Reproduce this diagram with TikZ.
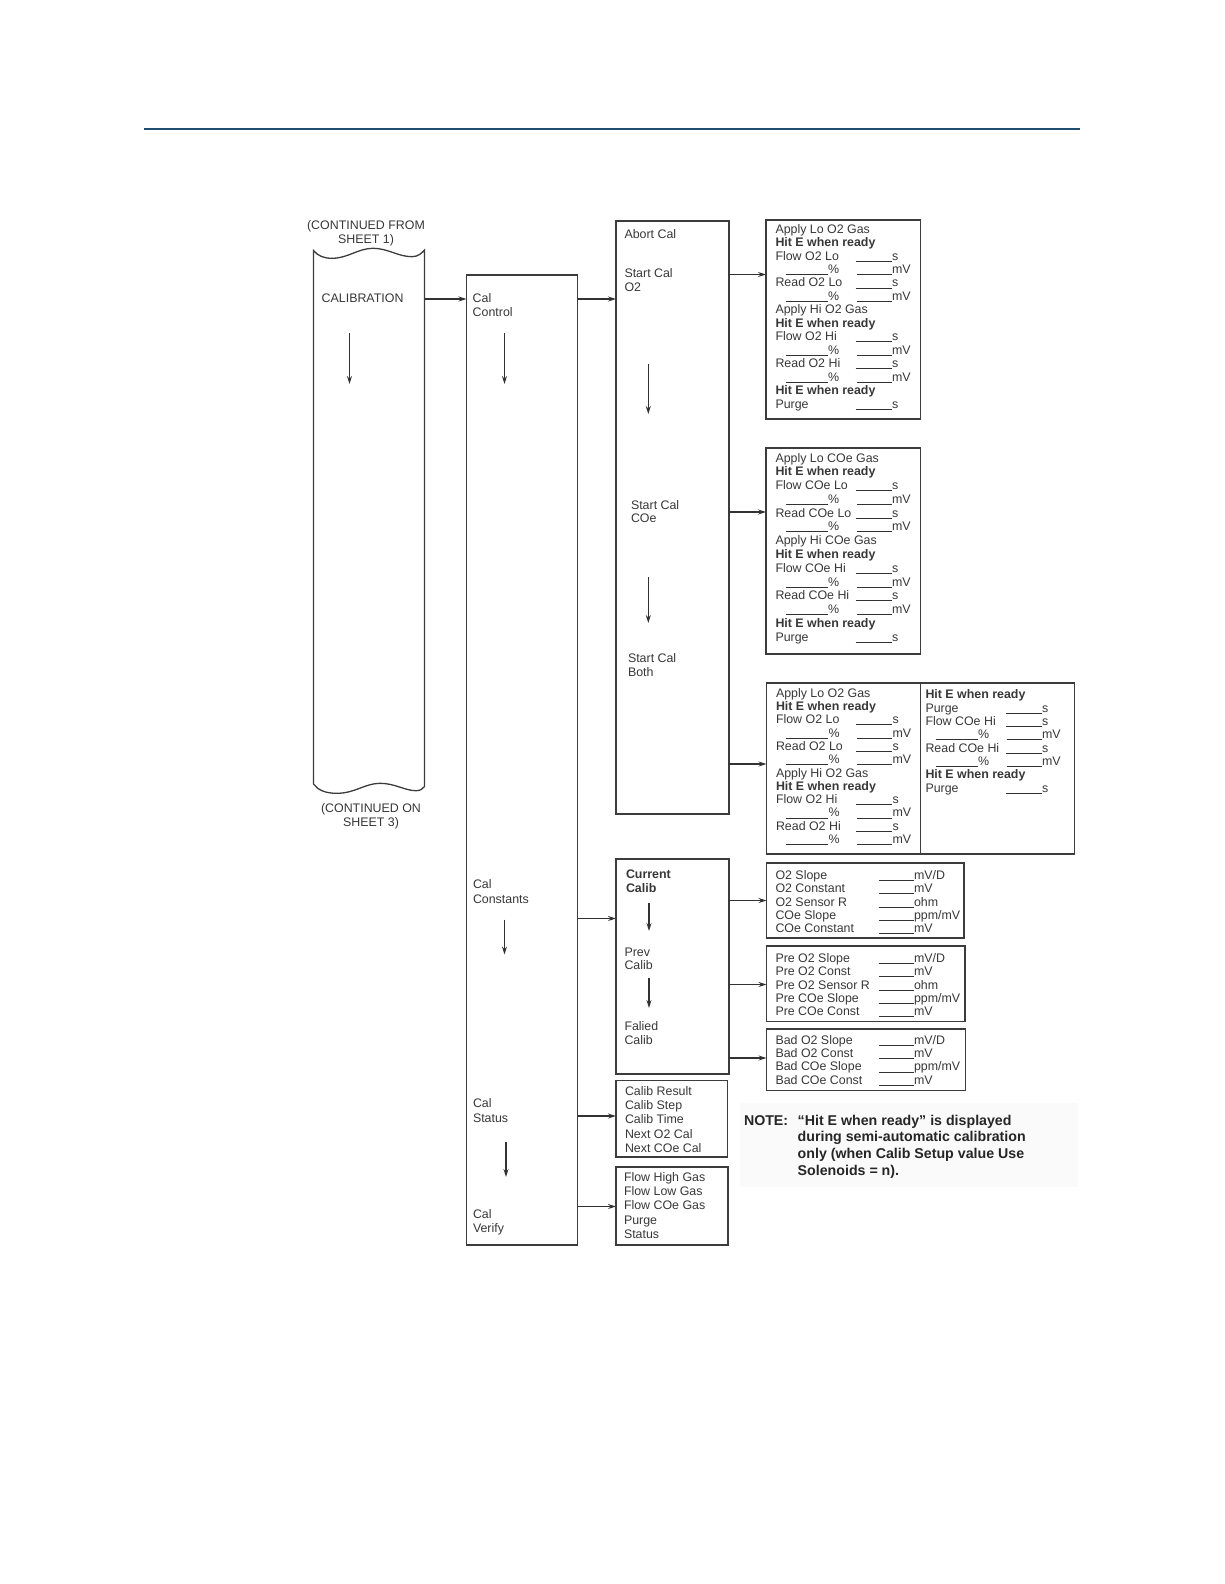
\documentclass[tikz,border=0pt]{standalone}
\usepackage{fontspec}
\setmainfont{Liberation Sans}
\usetikzlibrary{arrows.meta,calc}
\definecolor{txtc}{RGB}{55,55,55}
\definecolor{boxc}{RGB}{60,60,60}
\definecolor{linec}{RGB}{50,50,50}
\definecolor{rulec}{RGB}{32,76,112}
\tikzset{
  txt/.style={anchor=base west, inner sep=0pt, outer sep=0pt, text=txtc, font=\fontsize{12.4}{14}\selectfont},
  bld/.style={txt, font=\fontsize{12.4}{14}\selectfont\bfseries},
  ctr/.style={txt, anchor=base},
  notet/.style={anchor=base west, inner sep=0pt, outer sep=0pt, text=black!85, font=\fontsize{14.2}{17}\selectfont\bfseries},
  box/.style={draw=boxc, line width=1.3pt, anchor=north west, inner sep=0pt, outer sep=0pt},
  arr/.style={draw=linec, line width=1.1pt, -{Stealth[length=8pt,width=5pt]}},
  blank/.style={draw=linec, line width=0.8pt},
}
% rows: name, left x, baseline y, label
\newcommand\mkT[4]{\node[txt] (#1) at (#2,#3) {#4};}
\newcommand\mkB[4]{\node[bld] (#1) at (#2,#3) {#4};}
\newcommand\mkS[4]{\node[txt] (#1) at (#2,#3) {#4};
  \draw[blank] (#2+80,#3+1) -- (#2+116,#3+1);
  \node[txt] (#1u) at (#2+116.5,#3) {s};}
\newcommand\mkP[3]{\draw[blank] (#2+10,#3+1) -- (#2+52,#3+1);
  \node[txt] (#1) at (#2+52.5,#3) {\%};
  \draw[blank] (#2+81,#3+1) -- (#2+116,#3+1);
  \node[txt] (#1u) at (#2+116.5,#3) {mV};}
\newcommand\mkC[5]{\node[txt] (#1) at (#2,#3) {#4};
  \draw[blank] (#2+103,#3+1) -- (#2+138,#3+1);
  \node[txt] (#1u) at (#2+138.5,#3) {#5};}
\begin{document}
\begin{tikzpicture}[x=1pt,y=-1pt]
\useasboundingbox (0,0) rectangle (1224,1584);
% page rule
\draw[rulec, line width=1.5pt] (144,129) -- (1080,129);

% ---------- left scroll ----------
\node[ctr] (cf1) at (366,229.3) {(CONTINUED FROM};
\node[ctr] (cf2) at (366,243.3) {SHEET 1)};
\draw[boxc, line width=1.3pt]
  (313.5,250.5) .. controls (318,256) and (324,258.3) .. (332,258.3)
  .. controls (348,258.3) and (358,248.3) .. (373,248.3)
  .. controls (388,248.3) and (398,256.7) .. (412,256.7)
  .. controls (418,256.7) and (422,253) .. (424.5,250)
  -- (424.5,786.5)
  .. controls (423,789) and (420,790.7) .. (416,790.7)
  .. controls (405,790.7) and (395,783.3) .. (380,783.3)
  .. controls (365,783.3) and (355,793.3) .. (337,793.3)
  .. controls (325,793.3) and (318,790) .. (313.5,784)
  -- cycle;
\node[txt] (calib) at (321.7,302) {CALIBRATION};
\coordinate (calibA) at (349.5,333);
\coordinate (calibB) at (349.5,384);
\draw[arr] (calibA) -- (calibB);
\node[ctr] (co1) at (371,812.7) {(CONTINUED ON};
\node[ctr] (co2) at (371,826.5) {SHEET 3)};
\coordinate (calibE) at (424.5,299);

% ---------- Cal column ----------
\node[box, minimum width=111pt, minimum height=970pt] (calctl) at (466.5,275) {};
\mkT{cc1}{472.7}{302.5}{Cal}
\mkT{cc2}{472.7}{316.3}{Control}
\mkT{ck1}{473}{888.5}{Cal}
\mkT{ck2}{473}{903}{Constants}
\mkT{cs1}{473}{1107.5}{Cal}
\mkT{cs2}{473}{1122}{Status}
\mkT{cv1}{473}{1218.5}{Cal}
\mkT{cv2}{473}{1232.5}{Verify}
\coordinate (d1a) at (504.5,333);   \coordinate (d1b) at (504.5,384);
\coordinate (d2a) at (504.5,919.5); \coordinate (d2b) at (504.5,954.5);
\coordinate (d3a) at (506,1141.5);  \coordinate (d3b) at (506,1177);
\draw[arr] (d1a) -- (d1b);
\draw[arr] (d2a) -- (d2b);
\draw[arr] (d3a) -- (d3b);
\draw[arr] (calibE) -- (calctl.west |- calibE);

% ---------- Cal Control menu ----------
\node[box, minimum width=113pt, minimum height=593pt] (ctlmenu) at (616,221) {};
\mkT{m1}{624.5}{238}{Abort Cal}
\mkT{m2}{624.5}{277.5}{Start Cal}
\mkT{m3}{624.5}{291.5}{O2}
\mkT{m4}{631}{509}{Start Cal}
\mkT{m5}{631}{522.5}{COe}
\mkT{m6}{628}{662.5}{Start Cal}
\mkT{m7}{628}{676.5}{Both}
\coordinate (e1a) at (648.3,364); \coordinate (e1b) at (648.3,414);
\coordinate (e2a) at (648.3,577); \coordinate (e2b) at (648.3,623);
\draw[arr] (e1a) -- (e1b);
\draw[arr] (e2a) -- (e2b);
\coordinate (y299) at (0,299);
\draw[arr] (calctl.east |- y299) -- (ctlmenu.west |- y299);

% ---------- O2 box ----------
\node[box, minimum width=154.5pt, minimum height=199pt] (o2box) at (766,220) {};
\mkT{oa}{775.5}{233}{Apply Lo O2 Gas}
\mkB{ob}{775.5}{246.5}{Hit E when ready}
\mkS{oc}{775.5}{260}{Flow O2 Lo}
\mkP{od}{775.5}{273.4}
\mkS{oe}{775.5}{286.9}{Read O2 Lo}
\mkP{of}{775.5}{300.4}
\mkT{og}{775.5}{313.9}{Apply Hi O2 Gas}
\mkB{oh}{775.5}{327.4}{Hit E when ready}
\mkS{oi}{775.5}{340.8}{Flow O2 Hi}
\mkP{oj}{775.5}{354.3}
\mkS{ok}{775.5}{367.8}{Read O2 Hi}
\mkP{ol}{775.5}{381.3}
\mkB{om}{775.5}{394.8}{Hit E when ready}
\mkS{on}{775.5}{408.3}{Purge}
\coordinate (y274) at (0,274.5);
\draw[arr] (ctlmenu.east |- y274) -- (o2box.west |- y274);

% ---------- COe box ----------
\node[box, minimum width=154.5pt, minimum height=206pt] (coebox) at (766,448) {};
\mkT{ca}{775.5}{462}{Apply Lo COe Gas}
\mkB{cb}{775.5}{475.8}{Hit E when ready}
\mkS{cc}{775.5}{489.5}{Flow COe Lo}
\mkP{cd}{775.5}{503.3}
\mkS{ce}{775.5}{517}{Read COe Lo}
\mkP{cf}{775.5}{530.8}
\mkT{cg}{775.5}{544.6}{Apply Hi COe Gas}
\mkB{ch}{775.5}{558.4}{Hit E when ready}
\mkS{ci}{775.5}{572.2}{Flow COe Hi}
\mkP{cj}{775.5}{586}
\mkS{ck}{775.5}{599.7}{Read COe Hi}
\mkP{cl}{775.5}{613.5}
\mkB{cm}{775.5}{627.2}{Hit E when ready}
\mkS{cn}{775.5}{641}{Purge}
\coordinate (y512) at (0,512);
\draw[arr] (ctlmenu.east |- y512) -- (coebox.west |- y512);

% ---------- Both box ----------
\node[box, minimum width=154pt, minimum height=171pt] (bothL) at (766.5,683) {};
\node[box, minimum width=154pt, minimum height=171pt] (bothR) at (920.5,683) {};
\mkT{ba}{776}{697.2}{Apply Lo O2 Gas}
\mkB{bb}{776}{710.5}{Hit E when ready}
\mkS{bc}{776}{723.8}{Flow O2 Lo}
\mkP{bd}{776}{737.1}
\mkS{be}{776}{750.4}{Read O2 Lo}
\mkP{bf}{776}{763.7}
\mkT{bg}{776}{777}{Apply Hi O2 Gas}
\mkB{bh}{776}{790.3}{Hit E when ready}
\mkS{bi}{776}{803.6}{Flow O2 Hi}
\mkP{bj}{776}{816.9}
\mkS{bk}{776}{830.2}{Read O2 Hi}
\mkP{bl}{776}{843.5}
\mkB{ra}{925.5}{698.8}{Hit E when ready}
\mkS{rb}{925.5}{712.1}{Purge}
\mkS{rc}{925.5}{725.5}{Flow COe Hi}
\mkP{rd}{925.5}{738.8}
\mkS{re}{925.5}{752.2}{Read COe Hi}
\mkP{rf}{925.5}{765.5}
\mkB{rg}{925.5}{778.9}{Hit E when ready}
\mkS{rh}{925.5}{792.2}{Purge}
\coordinate (y764) at (0,764);
\draw[arr] (ctlmenu.east |- y764) -- (bothL.west |- y764);

% ---------- Cal Constants menu ----------
\node[box, minimum width=113pt, minimum height=215pt] (constmenu) at (616,859) {};
\mkB{k1}{626}{878.3}{Current}
\mkB{k2}{626}{892.3}{Calib}
\mkT{k3}{624.5}{956}{Prev}
\mkT{k4}{624.5}{969.5}{Calib}
\mkT{k5}{624.5}{1030.5}{Falied}
\mkT{k6}{624.5}{1044.3}{Calib}
\coordinate (f1a) at (649,903); \coordinate (f1b) at (649,931);
\coordinate (f2a) at (649,978); \coordinate (f2b) at (649,1008);
\draw[arr] (f1a) -- (f1b);
\draw[arr] (f2a) -- (f2b);
\coordinate (y917) at (0,918.5);
\draw[arr] (calctl.east |- y917) -- (constmenu.west |- y917);

\node[box, minimum width=197.5pt, minimum height=75pt] (c1) at (766.5,863) {};
\mkC{pa}{775.5}{879.5}{O2 Slope}{mV/D}
\mkC{pb}{775.5}{892.8}{O2 Constant}{mV}
\mkC{pc}{775.5}{906.1}{O2 Sensor R}{ohm}
\mkC{pd}{775.5}{919.4}{COe Slope}{ppm/mV}
\mkC{pe}{775.5}{932.7}{COe Constant}{mV}
\node[box, minimum width=198.5pt, minimum height=75.5pt] (c2) at (766.5,946) {};
\mkC{qa}{775.5}{962.5}{Pre O2 Slope}{mV/D}
\mkC{qb}{775.5}{975.8}{Pre O2 Const}{mV}
\mkC{qc}{775.5}{989.1}{Pre O2 Sensor R}{ohm}
\mkC{qd}{775.5}{1002.4}{Pre COe Slope}{ppm/mV}
\mkC{qe}{775.5}{1015.7}{Pre COe Const}{mV}
\node[box, minimum width=199pt, minimum height=61.5pt] (c3) at (766.5,1029) {};
\mkC{sa}{775.5}{1044.3}{Bad O2 Slope}{mV/D}
\mkC{sb}{775.5}{1057.6}{Bad O2 Const}{mV}
\mkC{sc}{775.5}{1070.9}{Bad COe Slope}{ppm/mV}
\mkC{sd}{775.5}{1084.2}{Bad COe Const}{mV}
\coordinate (y900) at (0,900.5);
\coordinate (y984) at (0,984.5);
\coordinate (y1058) at (0,1058);
\draw[arr] (constmenu.east |- y900) -- (c1.west |- y900);
\draw[arr] (constmenu.east |- y984) -- (c2.west |- y984);
\draw[arr] (constmenu.east |- y1058) -- (c3.west |- y1058);

% ---------- Cal Status ----------
\node[box, minimum width=111.5pt, minimum height=76.5pt] (status) at (616,1080.5) {};
\mkT{ta}{625}{1095.5}{Calib Result}
\mkT{tb}{625}{1109.7}{Calib Step}
\mkT{tc}{625}{1123.8}{Calib Time}
\mkT{td}{625}{1138}{Next O2 Cal}
\mkT{te}{625}{1152.2}{Next COe Cal}
\coordinate (y1116) at (0,1116);
\draw[arr] (calctl.east |- y1116) -- (status.west |- y1116);

% ---------- Cal Verify ----------
\node[box, minimum width=112pt, minimum height=78pt] (verify) at (616,1167) {};
\mkT{va}{624}{1181.5}{Flow High Gas}
\mkT{vb}{624}{1195.7}{Flow Low Gas}
\mkT{vc}{624}{1209.8}{Flow COe Gas}
\mkT{vd}{624}{1224}{Purge}
\mkT{ve}{624}{1238.2}{Status}
\coordinate (y1206) at (0,1206.5);
\draw[arr] (calctl.east |- y1206) -- (verify.west |- y1206);

% ---------- note ----------
\fill[black!2] (740,1103) rectangle (1078,1187);
\node[notet] (n0) at (744,1125) {NOTE:};
\node[notet] (n1) at (797.7,1125) {“Hit E when ready” is displayed};
\node[notet] (n2) at (797.7,1141.7) {during semi-automatic calibration};
\node[notet] (n3) at (797.7,1158.3) {only (when Calib Setup value Use};
\node[notet] (n4) at (797.7,1175) {Solenoids = n).};
\end{tikzpicture}
\end{document}
